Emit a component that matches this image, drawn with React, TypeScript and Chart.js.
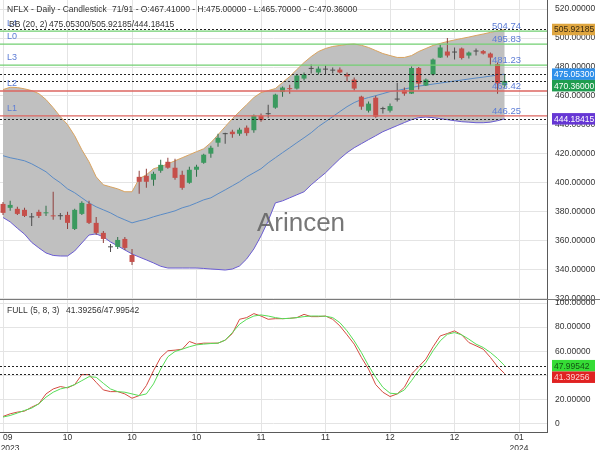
import React, { useEffect, useRef } from "react";
import { Chart, registerables } from "chart.js";

Chart.register(...registerables);

// ---------------- data ----------------
const symbolText = "NFLX - Daily - Candlestick";
const barInfo = "71/91";

const opens = [
  385.4, 382.7, 382.0, 381.3, 376.4, 379.9, 378.9, 377.5, 377.1, 377.8,
  368.1, 378.5, 385.4, 372.3, 365.4, 355.9, 355.7, 361.2, 350.1, 404.1,
  404.8, 402.1, 408.3, 414.5, 410.4, 405.5, 400.0, 409.0, 413.8, 420.1,
  427.7, 433.6, 435.3, 433.9, 438.1, 436.3, 446.4, 447.4, 451.9, 462.7,
  465.4, 465.1, 472.0, 478.7, 476.2, 478.2, 477.5, 478.2, 474.8, 471.3,
  459.5, 449.8, 458.8, 450.9, 449.8, 457.5, 464.0, 461.6, 479.3, 467.2,
  474.8, 486.5, 490.7, 490.0, 492.8, 487.9, 490.7, 491.0, 489.3, 482.0,
  467.41,
];
const highs = [
  386.8, 387.5, 383.4, 382.7, 379.2, 381.3, 384.1, 393.8, 379.2, 379.9,
  382.0, 387.2, 387.5, 376.4, 366.7, 357.7, 362.6, 362.6, 354.3, 408.3,
  409.7, 407.6, 415.9, 417.3, 416.6, 408.3, 411.1, 412.4, 420.1, 425.6,
  433.9, 434.6, 436.7, 438.1, 439.5, 447.1, 447.8, 454.0, 461.6, 466.5,
  467.8, 474.8, 476.2, 481.7, 480.3, 481.0, 479.6, 479.6, 476.2, 472.7,
  460.2, 456.1, 460.2, 452.6, 454.7, 469.2, 465.8, 480.3, 480.0, 472.0,
  485.9, 495.6, 500.0, 493.5, 493.5, 490.7, 492.8, 491.7, 490.0, 483.1,
  475.0,
];
const lows = [
  377.8, 380.6, 377.8, 376.4, 370.2, 375.7, 377.1, 374.4, 374.4, 368.1,
  367.4, 377.8, 371.6, 364.0, 358.4, 352.2, 354.3, 353.6, 343.2, 392.4,
  396.5, 397.9, 406.9, 409.7, 402.1, 395.1, 399.3, 404.1, 413.1, 417.3,
  424.9, 427.0, 431.1, 432.5, 432.5, 434.6, 442.2, 445.0, 451.2, 459.5,
  461.6, 464.4, 470.6, 475.5, 474.8, 474.8, 475.5, 475.5, 469.9, 463.7,
  450.5, 448.5, 445.0, 447.8, 448.5, 456.1, 460.2, 461.3, 464.4, 466.8,
  474.1, 486.2, 486.5, 485.2, 485.2, 485.9, 487.9, 488.6, 481.0, 461.6,
  465.7,
];
const closes = [
  379.2, 384.7, 378.5, 377.1, 376.1, 377.1, 379.6, 376.8, 376.9, 372.3,
  381.3, 386.1, 372.3, 365.4, 361.2, 355.4, 360.5, 355.0, 345.3, 400.7,
  400.7, 406.2, 412.4, 410.4, 403.4, 396.5, 409.0, 411.1, 419.4, 424.2,
  431.1, 433.9, 433.6, 436.7, 434.3, 446.4, 443.3, 447.8, 460.9, 465.8,
  464.7, 474.1, 474.8, 479.1, 478.9, 478.6, 477.7, 476.2, 473.5, 465.1,
  452.6, 454.7, 445.7, 451.2, 453.0, 457.8, 461.6, 479.3, 468.5, 471.3,
  485.2, 493.5, 487.9, 490.4, 486.2, 490.0, 491.0, 489.3, 486.5, 468.5,
  470.36,
];

const bbUpper = [
  464.4, 466.0, 465.8, 464.9, 463.7, 461.6, 457.5, 451.9, 445.7, 440.2,
  432.5, 422.8, 414.5, 404.1, 398.6, 397.2, 395.8, 393.8, 393.8, 402.8,
  405.5, 409.7, 411.1, 413.1, 415.2, 417.3, 419.4, 421.5, 423.5, 427.7,
  433.2, 438.8, 444.3, 449.2, 454.0, 458.9, 462.3, 463.7, 465.1, 469.3,
  473.4, 478.2, 483.1, 487.2, 490.7, 492.8, 494.2, 494.9, 495.6, 495.9,
  495.0, 493.5, 491.4, 489.3, 487.9, 486.6, 486.6, 487.9, 490.7, 492.8,
  494.9, 496.3, 497.6, 498.7, 499.7, 500.7, 501.8, 502.8, 503.9, 504.9,
  505.92185,
];
const bbMiddle = [
  418.7, 417.3, 416.3, 415.2, 413.1, 410.4, 407.6, 403.4, 400.0, 395.8,
  393.1, 389.6, 386.1, 383.4, 381.3, 379.2, 376.5, 374.4, 372.3, 373.7,
  374.8, 376.5, 377.9, 379.2, 380.6, 382.7, 384.1, 386.1, 388.2, 389.6,
  392.4, 395.1, 397.9, 400.7, 404.1, 406.9, 409.7, 413.8, 417.3, 420.8,
  424.2, 427.7, 431.1, 434.6, 438.8, 442.2, 445.7, 449.2, 452.6, 455.4,
  457.5, 458.9, 460.2, 461.6, 463.0, 463.7, 464.8, 465.8, 466.8, 467.5,
  468.2, 468.9, 469.6, 470.3, 471.0, 471.7, 472.4, 473.0, 473.7, 474.4,
  475.053,
];
const bbLower = [
  376.0, 373.0, 368.6, 364.5, 358.8, 355.0, 351.5, 349.8, 349.4, 349.4,
  352.9, 358.4, 363.9, 364.7, 362.6, 359.1, 356.4, 353.6, 350.8, 348.7,
  346.7, 344.6, 342.3, 341.1, 341.1, 341.1, 341.1, 341.1, 340.8, 340.4,
  340.1, 339.7, 340.4, 342.5, 347.4, 354.3, 363.3, 373.7, 386.1, 387.5,
  389.6, 391.7, 393.8, 398.6, 402.8, 406.9, 411.8, 416.6, 420.8, 424.2,
  427.0, 429.8, 432.5, 435.3, 437.4, 439.5, 441.6, 443.6, 445.0, 445.4,
  445.0, 444.3, 443.6, 442.9, 442.2, 441.9, 441.5, 441.5, 441.9, 442.9,
  444.18415,
];

const stochK = [
  5.9, 8.1, 9.5, 10.3, 13.6, 16.4, 24.6, 28.7, 30.7, 29.6,
  32.3, 40.6, 40.6, 34.2, 27.9, 26.5, 26.5, 24.6, 21.0, 23.2,
  31.5, 43.9, 54.9, 60.4, 60.9, 61.7, 68.1, 65.9, 66.7, 66.7,
  66.7, 69.2, 74.7, 86.5, 87.9, 91.2, 89.2, 86.5, 87.0, 87.0,
  87.3, 87.9, 90.6, 88.7, 88.7, 89.2, 86.5, 81.0, 73.6, 65.9,
  54.9, 45.2, 32.3, 26.0, 22.4, 24.6, 30.1, 41.1, 47.2, 53.5,
  63.7, 72.7, 74.7, 76.9, 73.6, 67.2, 64.5, 61.7, 54.9, 47.2,
  41.39256,
];
const stochD = [
  5.4, 6.7, 8.7, 10.9, 12.8, 16.4, 21.9, 26.0, 28.7, 30.1,
  32.3, 35.6, 38.9, 38.4, 33.4, 28.7, 26.5, 26.0, 24.6, 23.2,
  24.6, 32.9, 45.2, 55.4, 59.8, 61.7, 63.7, 65.3, 65.9, 66.4,
  66.7, 69.2, 75.5, 82.4, 86.5, 89.2, 90.1, 89.2, 87.9, 87.0,
  87.3, 87.9, 88.7, 89.2, 89.2, 89.0, 87.9, 83.7, 76.9, 68.6,
  59.0, 48.0, 38.4, 30.1, 25.2, 24.6, 27.9, 35.6, 43.9, 50.7,
  60.4, 68.6, 74.1, 75.5, 73.6, 70.0, 65.9, 63.1, 59.0, 54.0,
  47.99542,
];

const xTickIndex = [0, 9, 18, 27, 36, 45, 54, 63, 72];
const xTickLabels: (string | string[])[] = [
  ["09", "2023"], "10", "10", "10", "11", "11", "12", "12", ["01", "2024"],
];
const priceTicks = [320, 340, 360, 380, 400, 420, 440, 460, 480, 500, 520];
const stochTicks = [0, 20, 40, 60, 80, 100];

const levelNames = ["L4", "L0", "L3", "L2", "L1"];
const levelValues = [504.74, 495.83, 481.23, 463.42, 446.25];

// ---------------- styling ----------------
const FONT = '"Liberation Sans", Arial, sans-serif';
const X_MIN = -0.42;
const X_MAX = 75.9;
const GRID = "#e4e4e4";
const AXIS = "#5a5a5a";
const TXT = "#333333";

function last(a: number[]) {
  return a[a.length - 1];
}

function drawBox(ctx: CanvasRenderingContext2D, text: string, cy: number, bg: string, fg: string) {
  const h = 11.5;
  ctx.fillStyle = bg;
  ctx.fillRect(552, cy - h / 2, 43, h);
  ctx.fillStyle = fg;
  ctx.font = `8.5px ${FONT}`;
  ctx.textAlign = "left";
  ctx.textBaseline = "middle";
  ctx.fillText(text, 554, cy + 0.5);
}

function placeBoxes(items: { y: number; text: string; bg: string; fg: string }[]) {
  const sorted = [...items].sort((a, b) => a.y - b.y);
  let prev = -Infinity;
  for (const it of sorted) {
    if (it.y < prev + 11.5) it.y = prev + 11.5;
    prev = it.y;
  }
  return sorted;
}

function noPad(s: any) {
  s.paddingLeft = 0;
  s.paddingRight = 0;
  s.paddingTop = 0;
  s.paddingBottom = 0;
}

export default function App() {
  const topRef = useRef<HTMLCanvasElement>(null);
  const botRef = useRef<HTMLCanvasElement>(null);

  useEffect(() => {
    const idx = opens.map((_, i) => i);
    const isDoji = idx.map((i) => Math.abs(closes[i] - opens[i]) < 0.6);
    const isUp = idx.map((i) => closes[i] >= opens[i]);
    const bodyColors = idx.map((i) => (isDoji[i] ? "#4d4d4d" : isUp[i] ? "#3b9a5f" : "#c64f4a"));
    const wickColors = idx.map((i) => (isDoji[i] ? "#4d4d4d" : isUp[i] ? "#2f6e48" : "#8e3e3b"));

    const topPlugin = {
      id: "topDecor",
      afterDatasetsDraw(chart: any) {
        const { ctx, chartArea, scales } = chart;
        const y = scales.y;
        ctx.save();
        ctx.beginPath();
        ctx.rect(chartArea.left, chartArea.top, chartArea.right - chartArea.left, chartArea.bottom - chartArea.top);
        ctx.clip();

        // watermark
        ctx.font = `26px ${FONT}`;
        ctx.fillStyle = "rgba(95,95,95,0.85)";
        ctx.textAlign = "center";
        ctx.textBaseline = "middle";
        ctx.fillText("Arincen", chartArea.left + 301, chartArea.top + 224);

        // level lines
        levelValues.forEach((v, k) => {
          const py = y.getPixelForValue(v);
          ctx.strokeStyle = k < 3 ? "#72cf72" : "#dc6660";
          ctx.lineWidth = 1.3;
          ctx.setLineDash([]);
          ctx.beginPath();
          ctx.moveTo(chartArea.left, py);
          ctx.lineTo(chartArea.right, py);
          ctx.stroke();
        });

        // dotted current value lines
        [last(bbUpper), last(bbMiddle), last(closes), last(bbLower)].forEach((v) => {
          const py = Math.round(y.getPixelForValue(v)) + 0.5;
          ctx.strokeStyle = "#222";
          ctx.lineWidth = 1;
          ctx.setLineDash([2, 2]);
          ctx.beginPath();
          ctx.moveTo(chartArea.left, py);
          ctx.lineTo(chartArea.right, py);
          ctx.stroke();
        });
        ctx.setLineDash([]);

        // level labels
        ctx.fillStyle = "#5d7dd6";
        ctx.textBaseline = "middle";
        levelValues.forEach((v, k) => {
          const py = y.getPixelForValue(v);
          ctx.font = `9px ${FONT}`;
          ctx.textAlign = "left";
          ctx.fillText(levelNames[k], 7, py - 7.5);
          ctx.font = `9.5px ${FONT}`;
          ctx.fillText(v.toFixed(2), 492, py - 4.5);
        });
        ctx.restore();
      },
      afterDraw(chart: any) {
        const { ctx, scales } = chart;
        const y = scales.y;
        ctx.save();
        ctx.font = `8.5px ${FONT}`;
        ctx.fillStyle = TXT;
        ctx.textAlign = "left";
        ctx.textBaseline = "middle";
        ctx.fillText(symbolText, 7, 10);
        ctx.fillText(
          `${barInfo} - O:${last(opens).toFixed(5)} - H:${last(highs).toFixed(5)} - L:${last(lows).toFixed(5)} - C:${last(closes).toFixed(5)}`,
          112,
          10
        );
        ctx.fillText("BB (20, 2)", 9, 25);
        ctx.fillText(
          `${last(bbMiddle).toFixed(5)}/${last(bbUpper).toFixed(5)}/${last(bbLower).toFixed(5)}`,
          49,
          25
        );
        const boxes = placeBoxes([
          { y: y.getPixelForValue(last(bbUpper)), text: last(bbUpper).toFixed(5), bg: "#dfa640", fg: "#3a2a10" },
          { y: y.getPixelForValue(last(bbMiddle)), text: last(bbMiddle).toFixed(5), bg: "#2f90ea", fg: "#ffffff" },
          { y: y.getPixelForValue(last(closes)), text: last(closes).toFixed(5), bg: "#1f9d4f", fg: "#ffffff" },
          { y: y.getPixelForValue(last(bbLower)), text: last(bbLower).toFixed(5), bg: "#6637d4", fg: "#ffffff" },
        ]);
        boxes.forEach((b) => drawBox(ctx, b.text, b.y, b.bg, b.fg));
        ctx.restore();
      },
    };

    const botPlugin = {
      id: "botDecor",
      afterDatasetsDraw(chart: any) {
        const { ctx, chartArea, scales } = chart;
        const y = scales.y;
        ctx.save();
        [last(stochD), last(stochK)].forEach((v) => {
          const py = Math.round(y.getPixelForValue(v)) + 0.5;
          ctx.strokeStyle = "#222";
          ctx.lineWidth = 1;
          ctx.setLineDash([2, 2]);
          ctx.beginPath();
          ctx.moveTo(chartArea.left, py);
          ctx.lineTo(chartArea.right, py);
          ctx.stroke();
        });
        ctx.setLineDash([]);
        ctx.restore();
      },
      afterDraw(chart: any) {
        const { ctx, chartArea, scales } = chart;
        const y = scales.y;
        ctx.save();
        // separator between panels
        ctx.strokeStyle = "#7a7a7a";
        ctx.lineWidth = 1;
        ctx.beginPath();
        ctx.moveTo(0, chartArea.top - 0.5);
        ctx.lineTo(600, chartArea.top - 0.5);
        ctx.stroke();
        ctx.font = `8.5px ${FONT}`;
        ctx.fillStyle = TXT;
        ctx.textAlign = "left";
        ctx.textBaseline = "middle";
        ctx.fillText("FULL (5, 8, 3)", 7, chartArea.top + 11);
        ctx.fillText(`${last(stochK).toFixed(5)}/${last(stochD).toFixed(5)}`, 66, chartArea.top + 11);
        const boxes = placeBoxes([
          { y: y.getPixelForValue(last(stochD)), text: last(stochD).toFixed(5), bg: "#35dc35", fg: "#145214" },
          { y: y.getPixelForValue(last(stochK)), text: last(stochK).toFixed(5), bg: "#e02222", fg: "#ffd0d0" },
        ]);
        boxes.forEach((b) => drawBox(ctx, b.text, b.y, b.bg, b.fg));
        ctx.restore();
      },
    };

    const top = new Chart(topRef.current as HTMLCanvasElement, {
      type: "bar",
      data: {
        datasets: [
          {
            type: "line",
            label: "BB upper",
            data: idx.map((i) => ({ x: i, y: bbUpper[i] })),
            borderColor: "#d9a35f",
            borderWidth: 1,
            pointRadius: 0,
            backgroundColor: "#c0c0c0",
            fill: 2,
            order: 10,
          } as any,
          {
            type: "line",
            label: "BB middle",
            data: idx.map((i) => ({ x: i, y: bbMiddle[i] })),
            borderColor: "#5a8bc6",
            borderWidth: 1,
            pointRadius: 0,
            fill: false,
            order: 9,
          } as any,
          {
            type: "line",
            label: "BB lower",
            data: idx.map((i) => ({ x: i, y: bbLower[i] })),
            borderColor: "#6a5cd2",
            borderWidth: 1,
            pointRadius: 0,
            fill: false,
            order: 9,
          } as any,
          {
            type: "bar",
            label: "wick",
            data: idx.map((i) => ({ x: i, y: [lows[i], highs[i]] })),
            backgroundColor: wickColors,
            grouped: false,
            maxBarThickness: 1,
            order: 2,
          } as any,
          {
            type: "bar",
            label: "body",
            data: idx.map((i) => ({ x: i, y: [opens[i], closes[i]] })),
            backgroundColor: bodyColors,
            grouped: false,
            maxBarThickness: 5,
            minBarLength: 1,
            order: 1,
          } as any,
        ],
      },
      options: {
        animation: false,
        responsive: false,
        events: [],
        layout: { padding: { left: 0, right: 0, top: 0, bottom: 10 } },
        plugins: { legend: { display: false }, tooltip: { enabled: false } },
        scales: {
          x: {
            type: "linear",
            min: X_MIN,
            max: X_MAX,
            offset: false,
            grid: { color: GRID, drawTicks: false, offset: false },
            border: { display: false },
            ticks: { display: false },
            afterBuildTicks: (s: any) => {
              s.ticks = xTickIndex.map((v) => ({ value: v }));
            },
            afterFit: (s: any) => {
              s.height = 0;
              noPad(s);
            },
          },
          y: {
            type: "linear",
            position: "right",
            min: 319.0,
            max: 526.3,
            beginAtZero: false,
            grid: { color: GRID, drawTicks: false },
            border: { color: AXIS },
            ticks: {
              padding: 8,
              color: TXT,
              font: { size: 8.5, family: FONT },
              callback: (v: any) => Number(v).toFixed(5),
            },
            afterBuildTicks: (s: any) => {
              s.ticks = priceTicks.map((v) => ({ value: v }));
            },
            afterFit: (s: any) => {
              s.width = 53;
              noPad(s);
            },
          },
        },
      } as any,
      plugins: [topPlugin],
    });

    const bot = new Chart(botRef.current as HTMLCanvasElement, {
      type: "line",
      data: {
        datasets: [
          {
            label: "%D",
            data: idx.map((i) => ({ x: i, y: stochD[i] })),
            borderColor: "#56dc56",
            borderWidth: 1,
            pointRadius: 0,
            fill: false,
          },
          {
            label: "%K",
            data: idx.map((i) => ({ x: i, y: stochK[i] })),
            borderColor: "#d44c42",
            borderWidth: 1,
            pointRadius: 0,
            fill: false,
          },
        ],
      },
      options: {
        animation: false,
        responsive: false,
        events: [],
        layout: { padding: { left: 0, right: 0, top: 10, bottom: 0 } },
        plugins: { legend: { display: false }, tooltip: { enabled: false } },
        scales: {
          x: {
            type: "linear",
            min: X_MIN,
            max: X_MAX,
            offset: false,
            grid: { color: GRID, drawTicks: false },
            border: { color: AXIS },
            ticks: {
              padding: 1,
              color: TXT,
              maxRotation: 0,
              autoSkip: false,
              font: { size: 8.5, family: FONT, lineHeight: 1.2 },
              callback: (_v: any, i: number) => {
                const lab = xTickLabels[i];
                if (i === 0 && Array.isArray(lab)) return ["    " + lab[0], "      " + lab[1]];
                return lab;
              },
            },
            afterBuildTicks: (s: any) => {
              s.ticks = xTickIndex.map((v) => ({ value: v }));
            },
            afterFit: (s: any) => {
              s.height = 18;
              noPad(s);
            },
          },
          y: {
            type: "linear",
            position: "right",
            min: -7,
            max: 102.5,
            grid: { color: GRID, drawTicks: false },
            border: { color: AXIS },
            ticks: {
              padding: 8,
              color: TXT,
              font: { size: 8.5, family: FONT },
              callback: (v: any) => (Number(v) === 0 ? "0" : Number(v).toFixed(5)),
            },
            afterBuildTicks: (s: any) => {
              s.ticks = stochTicks.map((v) => ({ value: v }));
            },
            afterFit: (s: any) => {
              s.width = 53;
              noPad(s);
            },
          },
        },
      } as any,
      plugins: [botPlugin],
    });

    return () => {
      top.destroy();
      bot.destroy();
    };
  }, []);

  return (
    <div style={{ position: "absolute", left: 0, top: 0, width: 600, height: 450, background: "#ffffff", overflow: "hidden" }}>
      <canvas ref={topRef} width={600} height={310} style={{ position: "absolute", left: 0, top: 0 }} />
      <canvas ref={botRef} width={600} height={160} style={{ position: "absolute", left: 0, top: 290 }} />
    </div>
  );
}
